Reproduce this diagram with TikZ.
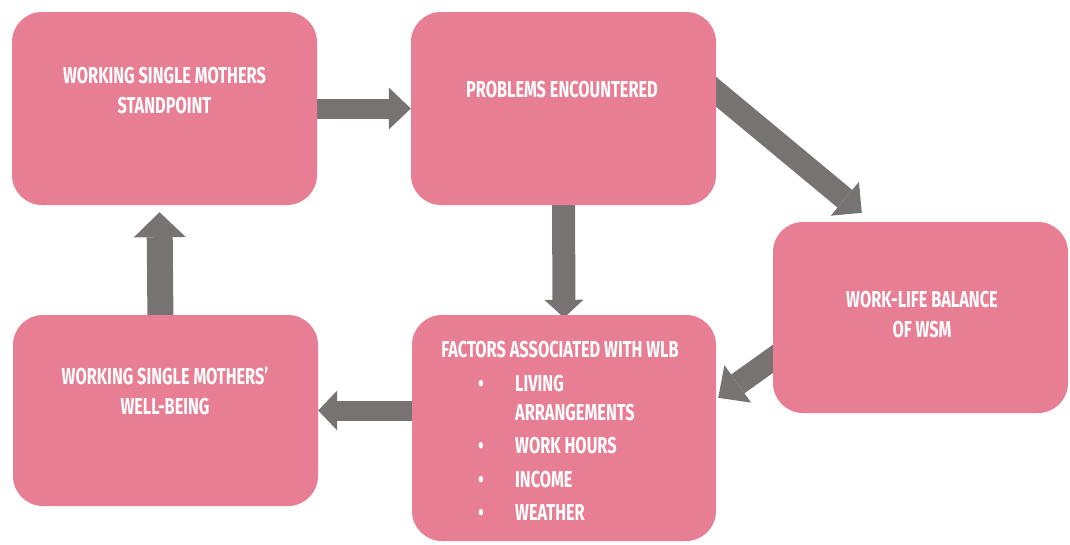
\documentclass[tikz,border=0pt]{standalone}
\usepackage{fontspec}
\newfontfamily\cond{Fira Sans}[FakeStretch=0.71]
\usetikzlibrary{arrows.meta,calc,backgrounds}
\definecolor{boxpink}{HTML}{E87E94}
\definecolor{arrowgray}{HTML}{787373}
\begin{document}
\begin{tikzpicture}[x=1pt,y=-1pt,
  box/.style={fill=boxpink, draw=none, rounded corners=30pt, inner sep=0pt},
  lbl/.style={text=white, font=\cond\bfseries\fontsize{23}{30}\selectfont, align=center, inner sep=0pt},
  flow/.style={draw=arrowgray, fill=arrowgray, line width=#1},
]
% page
\begin{scope}[on background layer]
  \fill[white] (0,0) rectangle (1070,544);
\end{scope}
\useasboundingbox (0,0) rectangle (1070,544);

% boxes
\node[box, minimum width=305pt, minimum height=193pt] (a) at (164.5,108.5) {};
\node[box, minimum width=305pt, minimum height=193pt] (b) at (563.5,108.5) {};
\node[box, minimum width=295pt, minimum height=191pt] (c) at (920.5,317.5) {};
\node[box, minimum width=304pt, minimum height=226pt] (d) at (564,428) {};
\node[box, minimum width=305pt, minimum height=191pt] (e) at (165.5,410.5) {};

% labels
\node[lbl] (a-t) at (164.5,91) {WORKING SINGLE MOTHERS\\STANDPOINT};
\node[lbl] (b-t) at (562,90) {PROBLEMS ENCOUNTERED};
\node[lbl] (c-t) at (922,315) {WORK-LIFE BALANCE\\OF WSM};
\node[lbl] (e-t) at (165,391) {WORKING SINGLE MOTHERS’\\WELL-BEING};
\node[lbl] (d-t) at (560,349.5) {FACTORS ASSOCIATED WITH WLB};
\node[lbl, font=\cond\bfseries\fontsize{23}{29}\selectfont, align=left, anchor=base west] (d-l) at (478,391)
  {\begin{tabular}[t]{@{}p{37pt}@{}l@{}}
   \textbullet & LIVING\\
               & ARRANGEMENTS\\[4.5pt]
   \textbullet & WORK HOURS\\[4.5pt]
   \textbullet & INCOME\\[4pt]
   \textbullet & WEATHER
   \end{tabular}};

% connectors
\begin{scope}[on background layer]
  \draw[flow=20pt, -{Triangle[length=22pt,width=42pt,line width=0pt]}]
    ($(a.east)+(-10,0)$) -- (b.west);
  \draw[flow=23pt, -{Triangle[length=22pt,width=44pt,line width=0pt]}]
    ($(b.north east)+(-11,71)$) -- ($(c.north west)+(89,-9)$);
  \draw[flow=23pt, -{Triangle[length=18pt,width=39pt,line width=0pt]}]
    ($(b.south)+(0,-10)$) -- ($(d.north)+(0,3)$);
  \draw[flow=23pt, -{Triangle[length=24pt,width=46pt,line width=0pt]}]
    ($(c.north west)+(10,130)$) -- ($(d.north east)+(2,83)$);
  \draw[flow=20pt, -{Triangle[length=19pt,width=40pt,line width=0pt]}]
    ($(e.east -| d.west)+(10,0)$) -- (e.east);
  \draw[flow=26pt, -{Triangle[length=25pt,width=52pt,line width=0pt]}]
    ($(e.north)+(-5,10)$) -- ($(a.south)+(-5,7)$);
\end{scope}
\end{tikzpicture}
\end{document}
